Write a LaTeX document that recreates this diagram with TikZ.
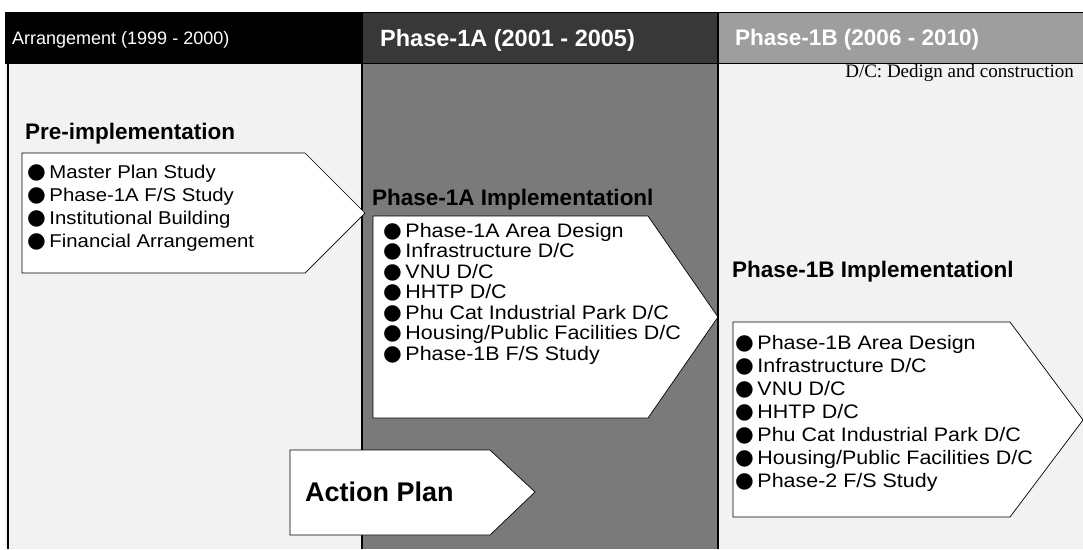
\documentclass[tikz,border=0pt]{standalone}
\usepackage{fontspec}
\setmainfont{Liberation Sans}
\newfontfamily\listfnt[FakeStretch=1.1]{Liberation Sans}
\newfontfamily\symfnt{DejaVu Sans}
\newfontfamily\dcserif{Liberation Serif}
\newcommand{\bl}{\smash{{\symfnt\fontsize{21.5}{18}\selectfont ●}}\hspace{3.5pt}}
\begin{document}
\begin{tikzpicture}[x=1pt,y=-1pt,
  arrowbox/.style={draw=black, line width=0.7pt, fill=white},
  lst/.style={anchor=north west, inner sep=0pt, align=left, font=\listfnt\fontsize{19.5}{23}\selectfont},
  ttl/.style={anchor=west, inner sep=0pt, font=\bfseries\fontsize{22.5}{26}\selectfont},
  hdr/.style={anchor=west, inner sep=0pt, text=white},
  divider/.style={line width=2.5pt}]
\useasboundingbox (0,0) rectangle (1083,549);
\fill[white] (0,0) rectangle (1083,549);
% column bodies
\fill[black!5] (5,63) rectangle (362,549);
\fill[black!52] (362,63) rectangle (718,549);
\fill[black!5] (718,63) rectangle (1083,549);
% header band
\fill[black] (5,12) rectangle (362,63);
\fill[black!78] (362,12) rectangle (718,63);
\fill[black!38] (718,12) rectangle (1083,63);
% frame lines
\draw[line width=1.5pt] (8,12) -- (8,549);
\draw[divider] (362,12) -- (362,549);
\draw[divider] (718,12) -- (718,549);
\draw[line width=1pt] (5,12) -- (1083,12);
\draw[line width=1pt] (5,63) -- (1083,63);
% arrow boxes
\draw[arrowbox] (22,153) -- (305,153) -- (365,213) -- (305,273) -- (22,273) -- cycle;
\draw[arrowbox] (373,216) -- (648,216) -- (718,317) -- (648,418) -- (373,418) -- cycle;
\draw[arrowbox] (733,322) -- (1010,322) -- (1083,420) -- (1010,517) -- (733,517) -- cycle;
\draw[arrowbox] (290,450) -- (490,450) -- (535,492) -- (490,535) -- (290,535) -- cycle;
% header texts
\node[hdr, font=\fontsize{18}{22}\selectfont] (h1) at (12,40) {Arrangement (1999 - 2000)};
\node[hdr, font=\bfseries\fontsize{23.5}{26}\selectfont] (h2) at (380,40) {Phase-1A (2001 - 2005)};
\node[hdr, font=\bfseries\fontsize{22.5}{26}\selectfont] (h3) at (735,40) {Phase-1B (2006 - 2010)};
\node[anchor=east, inner sep=0pt, font=\dcserif\fontsize{19}{22}\selectfont] (dc) at (1074,73) {D/C: Dedign and construction};
% titles and lists
\node[ttl] (pretitle) at (25,134) {Pre-implementation};
\node[lst, font=\listfnt\fontsize{18.5}{23}\selectfont] (prelist) at (27,165) {\bl Master Plan Study\\ \bl Phase-1A F/S Study\\ \bl Institutional Building\\ \bl Financial Arrangement};
\node[ttl] (atitle) at (372,200) {Phase-1A Implementationl};
\node[lst, font=\listfnt\fontsize{19.5}{20.5}\selectfont] (alist) at (383,223) {\bl Phase-1A Area Design\\ \bl Infrastructure D/C\\ \bl VNU D/C\\ \bl HHTP D/C\\ \bl Phu Cat Industrial Park D/C\\ \bl Housing/Public Facilities D/C\\ \bl Phase-1B F/S Study};
\node[ttl] (btitle) at (732,272) {Phase-1B Implementationl};
\node[lst] (blist) at (735,335) {\bl Phase-1B Area Design\\ \bl Infrastructure D/C\\ \bl VNU D/C\\ \bl HHTP D/C\\ \bl Phu Cat Industrial Park D/C\\ \bl Housing/Public Facilities D/C\\ \bl Phase-2 F/S Study};
\node[anchor=west, inner sep=0pt, font=\bfseries\fontsize{27}{30}\selectfont] (action) at (305,492) {Action Plan};
\end{tikzpicture}
\end{document}
